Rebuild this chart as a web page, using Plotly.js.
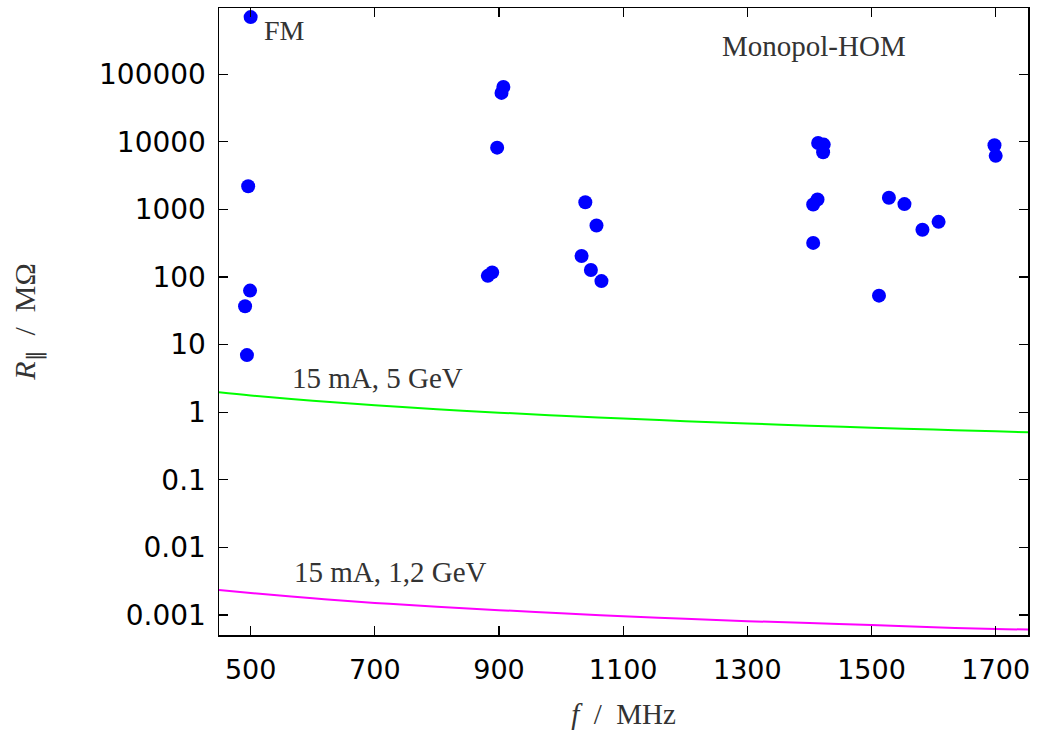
<!DOCTYPE html>
<html>
<head>
<meta charset="utf-8">
<script src="https://cdn.plot.ly/plotly-3.0.1.min.js"></script>
<style>html,body{margin:0;padding:0;background:#fff;}#chart{width:1042px;height:735px;}</style>
</head>
<body>
<div id="chart"></div>
<script>
// HOM monopole modes: frequency (MHz) and shunt impedance (MOhm)
const modeFreq = [500, 496, 499, 491, 494,
                  907, 904, 897, 882, 889,
                  1039, 1057, 1033, 1048, 1065,
                  1414, 1423, 1422, 1413, 1406, 1406,
                  1528, 1553, 1582, 1608, 1512, 1698, 1700];
const modeR    = [700000, 2200, 63, 37, 7,
                  65000, 53000, 8200, 104, 117,
                  1280, 577, 205, 127, 87,
                  9600, 9100, 7000, 1400, 1180, 320,
                  1490, 1200, 500, 655, 53, 8900, 6200];

// threshold curves
const curveFreq = [449, 500, 600, 700, 800, 900, 1000, 1100, 1200, 1300, 1400, 1500, 1600, 1700, 1752];
const limit5GeV  = [1.97, 1.77, 1.48, 1.27, 1.11, 0.985, 0.886, 0.805, 0.738, 0.682, 0.633, 0.591, 0.554, 0.521, 0.506];
const limit12GeV = [0.00235, 0.00212, 0.00177, 0.00151, 0.00132, 0.00118, 0.00106, 0.00096, 0.00088, 0.00081, 0.00076, 0.00071, 0.00066, 0.00062, 0.00061];

const xTicks = [500, 700, 900, 1100, 1300, 1500, 1700];
const yTicks = [0.001, 0.01, 0.1, 1, 10, 100, 1000, 10000, 100000];
const yTickText = ['0.001', '0.01', '0.1', '1', '10', '100', '1000', '10000', '100000'];

const serif = 'Liberation Serif';
const sans = 'DejaVu Sans';
const sp = '<span style="font-family:Liberation Serif">';

const traces = [
  {x: curveFreq, y: limit5GeV, mode: 'lines', line: {color: '#00ff00', width: 2, shape: 'spline'}, hoverinfo: 'skip'},
  {x: curveFreq, y: limit12GeV, mode: 'lines', line: {color: '#ff00ff', width: 2, shape: 'spline'}, hoverinfo: 'skip'},
  {x: modeFreq, y: modeR, mode: 'markers', marker: {color: '#0000ff', size: 14, line: {width: 0}}, cliponaxis: false}
];

const layout = {
  width: 1042, height: 735,
  paper_bgcolor: '#fff', plot_bgcolor: '#fff',
  showlegend: false,
  font: {family: serif},
  margin: {l: 219, r: 14, t: 8, b: 100},
  xaxis: {
    range: [449, 1752], tickvals: xTicks, ticktext: xTicks.map(String),
    ticks: 'inside', ticklen: 9, tickwidth: 1.2, tickcolor: '#000',
    showline: true, linecolor: '#000', linewidth: 1.5, mirror: 'ticks',
    showgrid: false, zeroline: false,
    tickfont: {family: sans, size: 27, color: '#000'},
    ticklabelstandoff: 10,
    title: {text: sp + '<i>f</i>  /  MHz</span>', font: {family: serif, size: 29, color: '#333'}, standoff: 20}
  },
  yaxis: {
    type: 'log', range: [-3.296, 5.98], tickvals: yTicks, ticktext: yTickText,
    ticks: 'inside', ticklen: 9, tickwidth: 1.2, tickcolor: '#000',
    showline: true, linecolor: '#000', linewidth: 1.5, mirror: 'ticks',
    showgrid: false, zeroline: false,
    tickfont: {family: sans, size: 28, color: '#000'},
    ticklabelstandoff: 6,
    title: {text: sp + '<i>R</i><sub>∥</sub>  /  MΩ</span>', font: {family: serif, size: 30, color: '#333'}, standoff: 54}
  },
  annotations: [
    {text: 'FM', x: 519, y: Math.log10(700000), xref: 'x', yref: 'y', xanchor: 'left', yanchor: 'top', showarrow: false, yshift: 4,
     font: {family: serif, size: 28, color: '#333'}},
    {text: 'Monopol-HOM', x: 0.735, y: 0.94, xref: 'paper', yref: 'paper', xanchor: 'center', yanchor: 'middle', showarrow: false,
     font: {family: serif, size: 29, color: '#333'}},
    {text: '15 mA, 5 GeV', x: 563, y: Math.log10(3.2), xref: 'x', yref: 'y', xanchor: 'left', yanchor: 'middle', showarrow: false,
     font: {family: serif, size: 29, color: '#333'}},
    {text: '15 mA, 1,2 GeV', x: 567, y: Math.log10(0.0043), xref: 'x', yref: 'y', xanchor: 'left', yanchor: 'middle', showarrow: false,
     font: {family: serif, size: 29, color: '#333'}}
  ]
};

Plotly.newPlot('chart', traces, layout, {displayModeBar: false, staticPlot: true});
</script>
</body>
</html>
